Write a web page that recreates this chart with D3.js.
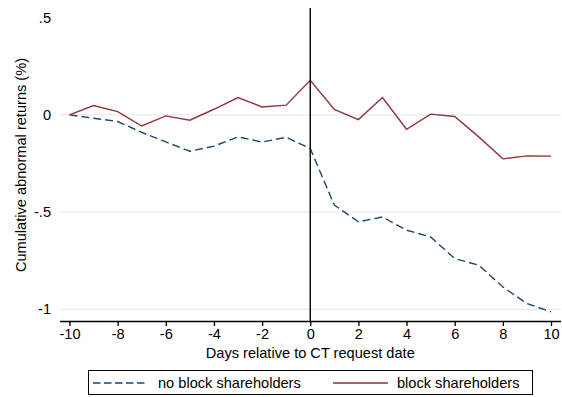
<!DOCTYPE html>
<html>
<head>
<meta charset="utf-8">
<script src="https://cdn.jsdelivr.net/npm/d3@7"></script>
<style>
  html, body { margin: 0; padding: 0; background: #fff; }
  svg { display: block; font-family: "Liberation Sans", Arial, Helvetica, sans-serif; }
</style>
</head>
<body>
<svg id="chart" width="562" height="397"></svg>
<script>
// Event days around the CT request date
const days = [-10, -9, -8, -7, -6, -5, -4, -3, -2, -1, 0, 1, 2, 3, 4, 5, 6, 7, 8, 9, 10];

// Cumulative abnormal returns (%) per group
const noBlock = [0, -0.017, -0.034, -0.09, -0.139, -0.187, -0.161, -0.113, -0.14, -0.115, -0.173,
                 -0.464, -0.55, -0.525, -0.593, -0.628, -0.739, -0.773, -0.885, -0.97, -1.013];
const block = [0, 0.048, 0.017, -0.057, -0.005, -0.027, 0.029, 0.089, 0.041, 0.05, 0.178,
               0.028, -0.024, 0.089, -0.074, 0.004, -0.008, -0.113, -0.226, -0.211, -0.212];

const xTicks = [-10, -8, -6, -4, -2, 0, 2, 4, 6, 8, 10];
const yTicks = [0.5, 0, -0.5, -1];
const yGrid = [0, -0.5, -1];

const seriesNames = ["no block shareholders", "block shareholders"];
const seriesColors = ["#1a476f", "#90353b"];

const FS = 14.6;
const svg = d3.select("#chart");

const x = d3.scaleLinear().domain([-10, 10]).range([69.5, 551]);
const y = d3.scaleLinear().domain([-1, 0.5]).range([309.3, 17.7]);

const plotLeft = 60, plotRight = 561, plotTop = 8, plotBottom = 321;

// light horizontal gridlines
svg.append("g").selectAll("line").data(yGrid).join("line")
  .attr("x1", plotLeft).attr("x2", plotRight)
  .attr("y1", d => y(d)).attr("y2", d => y(d))
  .attr("stroke", "#eaeaea").attr("stroke-width", 1.3);

// y tick labels, Stata style (".5", "-.5"), no axis line
const fmtY = d => String(d).replace(/^(-?)0\./, "$1.");
const yAxis = d3.axisLeft(y).tickValues(yTicks).tickSize(0).tickPadding(0).tickFormat(fmtY);
const gy = svg.append("g").attr("transform", "translate(51,0)").call(yAxis);
gy.select(".domain").remove();
gy.selectAll("text").attr("font-size", FS).attr("fill", "#000")
  .attr("font-family", "Liberation Sans, Arial, sans-serif");

// x axis
const xAxis = d3.axisBottom(x).tickValues(xTicks).tickSize(5).tickPadding(3)
  .tickFormat(d => String(d));
const gx = svg.append("g").attr("transform", `translate(0,${plotBottom})`).call(xAxis);
gx.select(".domain").attr("d", `M${plotLeft},0.5H${plotRight}`).attr("stroke", "#000").attr("stroke-width", 1.3);
gx.selectAll(".tick line").attr("stroke", "#000").attr("stroke-width", 1.3);
gx.selectAll("text").attr("font-size", FS).attr("fill", "#000")
  .attr("font-family", "Liberation Sans, Arial, sans-serif");

// axis titles
svg.append("text")
  .attr("x", (x(-10) + x(10)) / 2).attr("y", 358)
  .attr("text-anchor", "middle").attr("font-size", FS).attr("fill", "#000")
  .text("Days relative to CT request date");

svg.append("text")
  .attr("transform", `translate(25.5,165) rotate(-90)`)
  .attr("text-anchor", "middle").attr("font-size", FS).attr("fill", "#000")
  .text("Cumulative abnormal returns (%)");

// series lines
const line = d3.line().x((d, i) => x(days[i])).y(d => y(d));

svg.append("path").datum(noBlock)
  .attr("d", line).attr("fill", "none")
  .attr("stroke", seriesColors[0]).attr("stroke-width", 1.4)
  .attr("stroke-dasharray", "8,4");

svg.append("path").datum(block)
  .attr("d", line).attr("fill", "none")
  .attr("stroke", seriesColors[1]).attr("stroke-width", 1.4);

// event-date reference line
svg.append("line")
  .attr("x1", x(0)).attr("x2", x(0))
  .attr("y1", plotTop).attr("y2", plotBottom)
  .attr("stroke", "#000").attr("stroke-width", 1.4);

// legend
const lg = svg.append("g");
lg.append("rect")
  .attr("x", 88.5).attr("y", 370.5).attr("width", 444).attr("height", 24)
  .attr("fill", "#fff").attr("stroke", "#000").attr("stroke-width", 1);

const legendItems = [
  { x0: 93, x1: 148, tx: 158, dash: "7.5,3.5" },
  { x0: 333, x1: 388, tx: 397, dash: null }
];
legendItems.forEach((it, i) => {
  lg.append("line")
    .attr("x1", it.x0).attr("x2", it.x1).attr("y1", 383).attr("y2", 383)
    .attr("stroke", seriesColors[i]).attr("stroke-width", 1.4)
    .attr("stroke-dasharray", it.dash);
  lg.append("text")
    .attr("x", it.tx).attr("y", 388)
    .attr("font-size", FS).attr("fill", "#000")
    .text(seriesNames[i]);
});
</script>
</body>
</html>
